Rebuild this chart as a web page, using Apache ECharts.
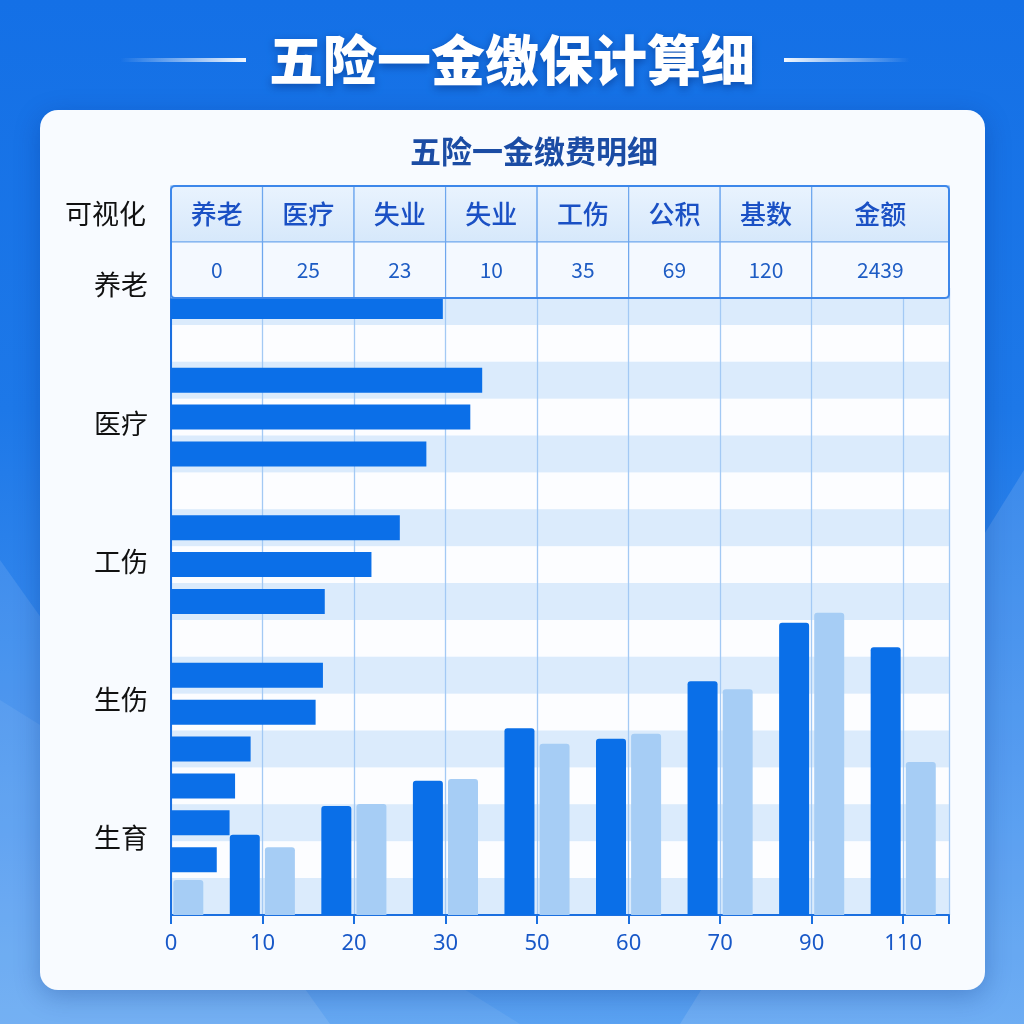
<!DOCTYPE html>
<html><head><meta charset="utf-8">
<script src="https://cdn.jsdelivr.net/npm/echarts@6/dist/echarts.min.js"></script>
<style>
html,body{margin:0;padding:0;width:1024px;height:1024px;overflow:hidden;}
body{background:linear-gradient(180deg,#1470e6 0%,#1d78e8 40%,#3f8fee 75%,#5aa2f2 100%);position:relative;font-family:"Noto Sans CJK SC",sans-serif;}
.poly{position:absolute;left:0;top:0;width:1024px;height:1024px;}
#p1{background:rgba(255,255,255,0.10);clip-path:polygon(0 560px,330px 1024px,0 1024px);}
#p2{background:rgba(255,255,255,0.12);clip-path:polygon(1024px 470px,1024px 1024px,680px 1024px);}
#p3{background:rgba(255,255,255,0.07);clip-path:polygon(0 700px,520px 1024px,0 1024px);}
#card{position:absolute;left:40px;top:110px;width:945px;height:880px;border-radius:18px;background:#f8fbff;box-shadow:0 6px 26px rgba(0,40,120,0.28);}
#chart{position:absolute;left:0;top:0;width:1024px;height:1024px;}
</style></head>
<body>
<div class="poly" id="p1"></div><div class="poly" id="p2"></div><div class="poly" id="p3"></div>
<div id="card"></div>
<div id="chart"></div>
<script>
// ---------- data ----------
const mainTitle = '五险一金缴保计算细';
const subTitle = '五险一金缴费明细';
const tableRowLabel = '可视化';
const tableHeaders = ['养老','医疗','失业','失业','工伤','公积','基数','金额'];
const tableValues = ['0','25','23','10','35','69','120','2439'];
const rowLabels = ['养老','医疗','工伤','生伤','生育'];
const xTickLabels = ['0','10','20','30','50','60','70','90','110'];
// horizontal bars (17 row slots, top to bottom; null = empty slot)
const hBarValues = [29.7,null,34.0,32.7,27.9,null,25.0,21.9,16.8,null,16.6,15.8,8.7,7.0,6.4,5.0,null];
// vertical bar pairs, one per x tick
const vDarkValues  = [null,12.8,17.4,21.4,29.8,28.1,37.3,46.6,42.7];
const vLightValues = [5.6,10.8,17.7,21.7,27.3,28.9,36.0,48.2,24.4];

// ---------- chart ----------
const X_MAX = 85;
const rowSlots = hBarValues.map((_, i) => 'r' + (i + 1));
const chart = echarts.init(document.getElementById('chart'), null, {renderer: 'canvas'});

const tableCells = [];
[tableHeaders, tableValues].forEach((row, r) => {
  row.forEach((txt, c) => {
    const x0 = c * 10;
    const x1 = c === row.length - 1 ? X_MAX : (c + 1) * 10;
    tableCells.push({value: [x0, x1, r], text: txt, row: r});
  });
});

const FONT = '"Noto Sans CJK SC","Noto Sans",sans-serif';

const option = {
  backgroundColor: 'transparent',
  animation: false,
  title: [
    {text: mainTitle, left: 'center', top: 28,
     textStyle: {color: '#ffffff', fontSize: 54, fontWeight: 900, fontFamily: FONT,
       textShadowColor: 'rgba(0,30,100,0.45)', textShadowBlur: 8, textShadowOffsetY: 3}},
    {text: subTitle, left: 405, top: 131,
     textStyle: {color: '#1b4ca4', fontSize: 31, fontWeight: 'bold', fontFamily: FONT}}
  ],
  graphic: [
    {type: 'rect', left: 120, top: 58, shape: {width: 126, height: 4},
     style: {fill: new echarts.graphic.LinearGradient(0, 0, 1, 0, [
       {offset: 0, color: 'rgba(255,255,255,0)'}, {offset: 1, color: 'rgba(255,255,255,0.95)'}])}},
    {type: 'rect', left: 784, top: 58, shape: {width: 126, height: 4},
     style: {fill: new echarts.graphic.LinearGradient(0, 0, 1, 0, [
       {offset: 0, color: 'rgba(255,255,255,0.95)'}, {offset: 1, color: 'rgba(255,255,255,0)'}])}}
  ],
  grid: [
    {left: 171, right: 75, top: 288, bottom: 109},      // main (horizontal bars)
    {left: 125, right: 75, top: 288, bottom: 109},      // vertical bars
    {left: 171, right: 75, top: 186, height: 112},      // table
    {left: 160, right: 863, top: 216, bottom: 117}      // row labels
  ],
  xAxis: [
    {type: 'value', gridIndex: 0, min: 0, max: X_MAX, interval: 10,
     axisLine: {show: true, lineStyle: {color: '#1a6fe0', width: 2}},
     axisTick: {show: true, length: 9, lineStyle: {color: '#1a6fe0', width: 2}},
     axisLabel: {color: '#1858c8', fontSize: 22, margin: 18, fontFamily: '"Noto Sans",sans-serif',
       formatter: v => { const i = Math.round(v / 10); return Math.abs(v - i * 10) < 1e-6 && xTickLabels[i] !== undefined ? xTickLabels[i] : ''; }},
     splitLine: {show: true, lineStyle: {color: '#a3c9f4', width: 1.3}}},
    {type: 'category', gridIndex: 1, data: xTickLabels, show: false},
    {type: 'value', gridIndex: 2, min: 0, max: X_MAX, show: false},
    {type: 'value', gridIndex: 3, show: false}
  ],
  yAxis: [
    {type: 'category', gridIndex: 0, data: rowSlots, inverse: true,
     axisLine: {show: true, lineStyle: {color: '#1a6fe0', width: 2}},
     axisTick: {show: false}, axisLabel: {show: false},
     splitArea: {show: true, areaStyle: {color: ['rgba(211,231,251,0.8)', 'rgba(255,255,255,0.5)']}}},
    {type: 'value', gridIndex: 1, min: 0, max: 100, show: false},
    {type: 'category', gridIndex: 2, data: [tableRowLabel, ''], inverse: true,
     axisLine: {show: false}, axisTick: {show: false},
     axisLabel: {color: '#111', fontSize: 27, margin: 25, fontFamily: FONT}},
    {type: 'category', gridIndex: 3, data: rowLabels, inverse: true,
     axisLine: {show: false}, axisTick: {show: false},
     axisLabel: {color: '#111', fontSize: 27, margin: 12, fontFamily: FONT}}
  ],
  series: [
    {type: 'bar', name: 'h', xAxisIndex: 0, yAxisIndex: 0, data: hBarValues, barWidth: 25,
     itemStyle: {color: '#0b6fe8'}, z: 3},
    {type: 'bar', name: 'dark', xAxisIndex: 1, yAxisIndex: 1, data: vDarkValues, barWidth: 30, barGap: '17%',
     itemStyle: {color: '#0a6fe8', borderRadius: [3, 3, 0, 0]}, z: 3},
    {type: 'bar', name: 'light', xAxisIndex: 1, yAxisIndex: 1, data: vLightValues, barWidth: 30, barGap: '17%',
     itemStyle: {color: '#a6cdf5', borderRadius: [3, 3, 0, 0]}, z: 3},
    {type: 'custom', xAxisIndex: 2, yAxisIndex: 2, z: 6,
     data: tableCells.map(c => c.value),
     encode: {x: [0, 1], y: 2},
     renderItem: (params, api) => {
       const cell = tableCells[params.dataIndex];
       const r = api.value(2);
       const s = api.coord([api.value(0), r]);
       const e = api.coord([api.value(1), r]);
       const h = api.size([0, 1])[1];
       const isHead = cell.row === 0;
       const children = [
         {type: 'rect', shape: {x: s[0], y: s[1] - h / 2, width: e[0] - s[0], height: h},
          style: {fill: isHead ? new echarts.graphic.LinearGradient(0, 0, 0, 1, [
              {offset: 0, color: '#e9f3fe'}, {offset: 1, color: '#d6e8fb'}]) : '#f4f9ff',
            stroke: '#6ea7ee', lineWidth: 1.2}},
         {type: 'text', x: (s[0] + e[0]) / 2, y: s[1],
          style: {text: cell.text, align: 'center', verticalAlign: 'middle',
            fill: isHead ? '#1a50c4' : '#1d5cc4', fontSize: isHead ? 26 : 21,
            fontWeight: isHead ? 500 : 'normal', fontFamily: FONT}}
       ];
       if (params.dataIndex === 0) {
         const tl = api.coord([0, 0]);
         const br = api.coord([X_MAX, 1]);
         children.push({type: 'rect', z2: 10,
           shape: {x: tl[0], y: tl[1] - h / 2, width: br[0] - tl[0], height: br[1] - tl[1] + h, r: 4},
           style: {fill: 'none', stroke: '#3d87ea', lineWidth: 2}});
       }
       return {type: 'group', children};
     }}
  ]
};
chart.setOption(option);
</script>
</body></html>
